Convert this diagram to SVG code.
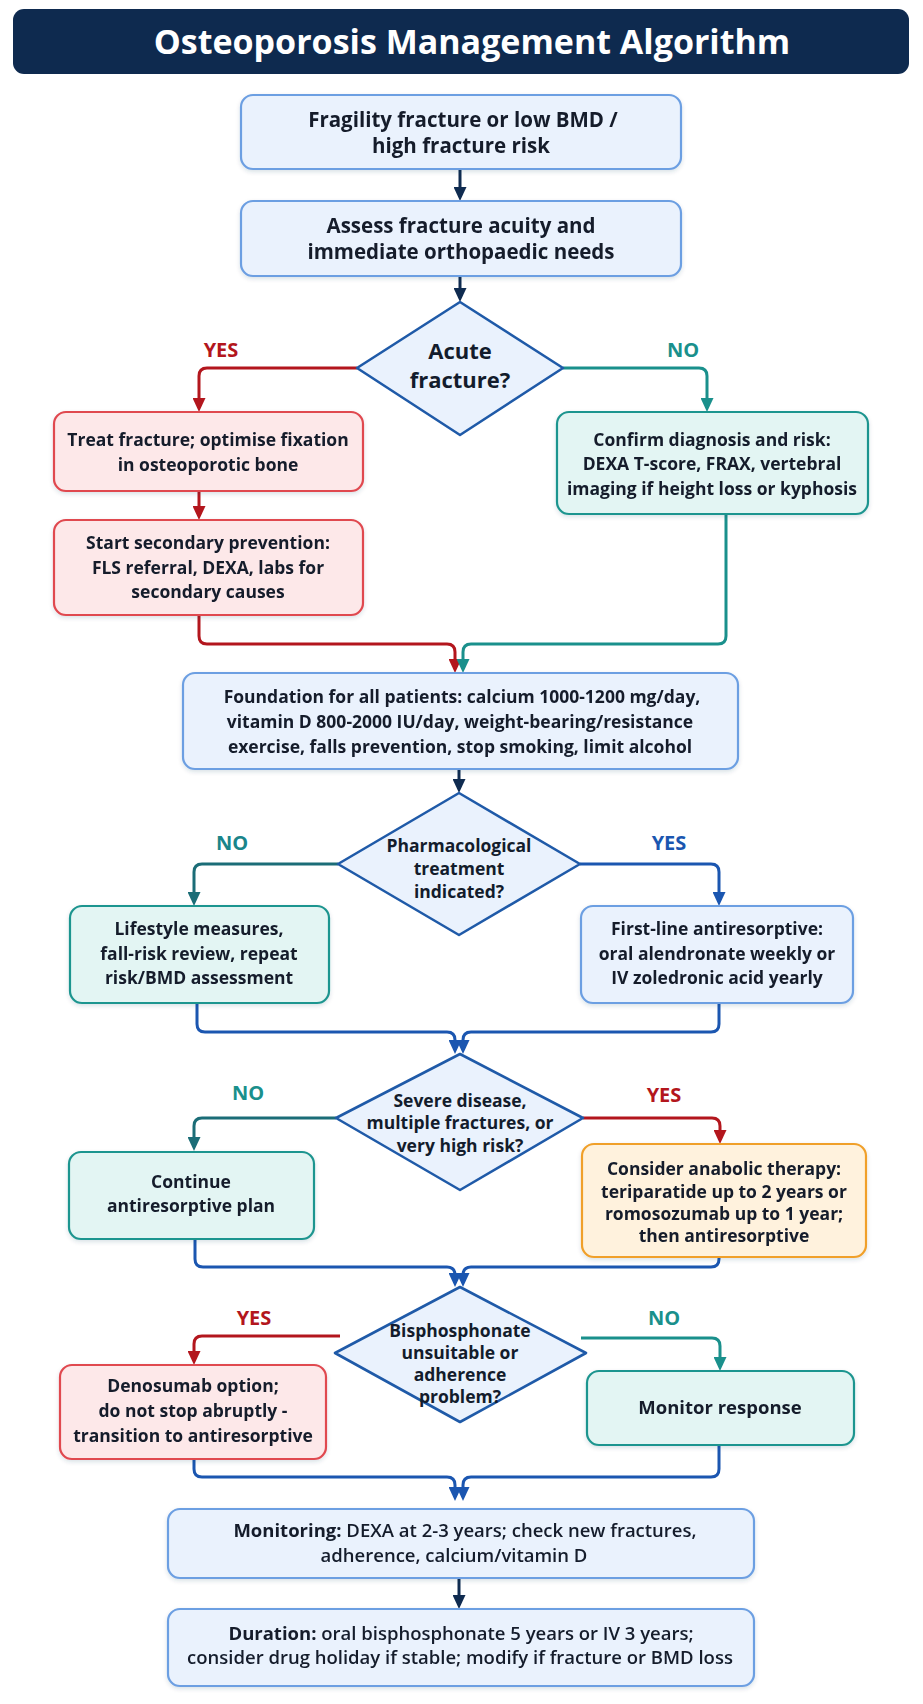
<svg xmlns="http://www.w3.org/2000/svg" width="923" height="1704" viewBox="0 0 923 1704">
<defs>
<style>
.t{font-family:"Open Sans","Liberation Sans",Arial,sans-serif;font-weight:700;fill:#131c2c;text-anchor:middle;font-size:17.5px}
.big{font-size:20.5px}
.dt{font-size:22px}
.mid{font-size:18.5px}
.title{font-family:"Open Sans","Liberation Sans",Arial,sans-serif;font-weight:700;fill:#ffffff;text-anchor:middle;font-size:34px}
.lbl{font-family:"Open Sans","Liberation Sans",Arial,sans-serif;font-weight:700;font-size:20px;text-anchor:middle}
.b{font-weight:700}
.m{font-weight:600}
.bx-blue{fill:#eaf2fd;stroke:#6c9fe2;stroke-width:2.2}
.bx-red{fill:#fde8e9;stroke:#e0484f;stroke-width:2.2}
.bx-teal{fill:#e3f5f3;stroke:#1f958f;stroke-width:2.2}
.bx-orange{fill:#fff2dd;stroke:#f0a02a;stroke-width:2.2}
.dia{fill:#eaf2fd;stroke:#1f5aa8;stroke-width:2.6}
.c{fill:none;stroke-width:3;stroke-linejoin:round}
.navy{stroke:#0f2b50}
.red{stroke:#b3161d}
.teal{stroke:#1a908c}
.tealdk{stroke:#1b6d77}
.blue{stroke:#1b56b0}
</style>
<filter id="sh" x="-10%" y="-10%" width="120%" height="130%">
<feDropShadow dx="0" dy="2" stdDeviation="2" flood-color="#1f3a60" flood-opacity="0.15"/>
</filter>
<marker id="a-navy" markerUnits="userSpaceOnUse" viewBox="0 0 14 13" markerWidth="14" markerHeight="13" refX="10" refY="6.5" orient="auto"><path d="M0,0 L14,6.5 L0,13 z" fill="#0f2b50"/></marker>
<marker id="a-red" markerUnits="userSpaceOnUse" viewBox="0 0 14 13" markerWidth="14" markerHeight="13" refX="10" refY="6.5" orient="auto"><path d="M0,0 L14,6.5 L0,13 z" fill="#b3161d"/></marker>
<marker id="a-teal" markerUnits="userSpaceOnUse" viewBox="0 0 14 13" markerWidth="14" markerHeight="13" refX="10" refY="6.5" orient="auto"><path d="M0,0 L14,6.5 L0,13 z" fill="#1a908c"/></marker>
<marker id="a-tealdk" markerUnits="userSpaceOnUse" viewBox="0 0 14 13" markerWidth="14" markerHeight="13" refX="10" refY="6.5" orient="auto"><path d="M0,0 L14,6.5 L0,13 z" fill="#1b6d77"/></marker>
<marker id="a-blue" markerUnits="userSpaceOnUse" viewBox="0 0 14 13" markerWidth="14" markerHeight="13" refX="10" refY="6.5" orient="auto"><path d="M0,0 L14,6.5 L0,13 z" fill="#1b56b0"/></marker>
</defs>
<rect width="923" height="1704" fill="#ffffff"/>

<g id="title">
<rect x="13" y="9" width="896" height="65" rx="11" fill="#0e2a4f"/>
<text class="title" x="472" y="54">Osteoporosis Management Algorithm</text>
</g>

<g id="connectors">
<path class="c navy" d="M460,169 V197" marker-end="url(#a-navy)"/>
<path class="c navy" d="M460,276 V298" marker-end="url(#a-navy)"/>
<path class="c red" d="M357,368 H207 Q199,368 199,376 V408" marker-end="url(#a-red)"/>
<path class="c teal" d="M563,368 H699 Q707,368 707,376 V408" marker-end="url(#a-teal)"/>
<path class="c red" d="M199,491 V516" marker-end="url(#a-red)"/>
<path class="c red" d="M199,615 V636 Q199,644 207,644 H447 Q455,644 455,652 V669" marker-end="url(#a-red)"/>
<path class="c teal" d="M726,514 V636 Q726,644 718,644 H471 Q463,644 463,652 V669" marker-end="url(#a-teal)"/>
<path class="c navy" d="M459,769 V789" marker-end="url(#a-navy)"/>
<path class="c tealdk" d="M338,864 H202 Q194,864 194,872 V902" marker-end="url(#a-tealdk)"/>
<path class="c blue" d="M580,864 H711 Q719,864 719,872 V902" marker-end="url(#a-blue)"/>
<path class="c blue" d="M197,1003 V1024 Q197,1032 205,1032 H447 Q455,1032 455,1040 V1050" marker-end="url(#a-blue)"/>
<path class="c blue" d="M719,1003 V1024 Q719,1032 711,1032 H471 Q463,1032 463,1040 V1050" marker-end="url(#a-blue)"/>
<path class="c tealdk" d="M336,1118 H202 Q194,1118 194,1126 V1147" marker-end="url(#a-tealdk)"/>
<path class="c red" d="M583,1118 H712 Q720,1118 720,1126 V1140" marker-end="url(#a-red)"/>
<path class="c blue" d="M195,1239 V1259 Q195,1267 203,1267 H447 Q455,1267 455,1275 V1283" marker-end="url(#a-blue)"/>
<path class="c blue" d="M719,1257 V1259 Q719,1267 711,1267 H471 Q463,1267 463,1275 V1283" marker-end="url(#a-blue)"/>
<path class="c red" d="M340,1336 H202 Q194,1336 194,1344 V1361" marker-end="url(#a-red)"/>
<path class="c teal" d="M581,1338 H712 Q720,1338 720,1346 V1367" marker-end="url(#a-teal)"/>
<path class="c blue" d="M194,1459 V1469 Q194,1477 202,1477 H447 Q455,1477 455,1485 V1497" marker-end="url(#a-blue)"/>
<path class="c blue" d="M719,1445 V1469 Q719,1477 711,1477 H471 Q463,1477 463,1485 V1497" marker-end="url(#a-blue)"/>
<path class="c navy" d="M459,1578 V1605" marker-end="url(#a-navy)"/>
<text class="lbl" x="221" y="357" fill="#b3161d">YES</text>
<text class="lbl" x="683" y="357" fill="#1a908c">NO</text>
<text class="lbl" x="232" y="850" fill="#1a858a">NO</text>
<text class="lbl" x="669" y="850" fill="#1b56b0">YES</text>
<text class="lbl" x="248" y="1100" fill="#1a908c">NO</text>
<text class="lbl" x="664" y="1102" fill="#b3161d">YES</text>
<text class="lbl" x="254" y="1325" fill="#b3161d">YES</text>
<text class="lbl" x="664" y="1325" fill="#1a908c">NO</text>
</g>

<g id="n-start" filter="url(#sh)">
<rect class="bx-blue" x="241" y="95" width="440" height="74" rx="12"/>
<text class="t big" x="463" y="127">Fragility fracture or low BMD /</text>
<text class="t big" x="461" y="153">high fracture risk</text>
</g>

<g id="n-assess" filter="url(#sh)">
<rect class="bx-blue" x="241" y="201" width="440" height="75" rx="12"/>
<text class="t big" x="461" y="233">Assess fracture acuity and</text>
<text class="t big" x="461" y="259">immediate orthopaedic needs</text>
</g>

<g id="d-acute">
<polygon class="dia" points="460,302 563,368 460,435 357,368" stroke-linejoin="round"/>
<text class="t dt" x="460" y="359">Acute</text>
<text class="t dt" x="460" y="388">fracture?</text>
</g>

<g id="n-treat" filter="url(#sh)">
<rect class="bx-red" x="54" y="412" width="309" height="79" rx="12"/>
<text class="t" x="208" y="446">Treat fracture; optimise fixation</text>
<text class="t" x="208" y="471">in osteoporotic bone</text>
</g>

<g id="n-secondary" filter="url(#sh)">
<rect class="bx-red" x="54" y="520" width="309" height="95" rx="12"/>
<text class="t" x="208" y="549">Start secondary prevention:</text>
<text class="t" x="208" y="574">FLS referral, DEXA, labs for</text>
<text class="t" x="208" y="598">secondary causes</text>
</g>

<g id="n-confirm" filter="url(#sh)">
<rect class="bx-teal" x="557" y="412" width="311" height="102" rx="12"/>
<text class="t" x="712" y="446">Confirm diagnosis and risk:</text>
<text class="t" x="712" y="470">DEXA T-score, FRAX, vertebral</text>
<text class="t" x="712" y="495">imaging if height loss or kyphosis</text>
</g>

<g id="n-foundation" filter="url(#sh)">
<rect class="bx-blue" x="183" y="673" width="555" height="96" rx="12"/>
<text class="t" x="462" y="703">Foundation for all patients: calcium 1000-1200 mg/day,</text>
<text class="t" x="460" y="728">vitamin D 800-2000 IU/day, weight-bearing/resistance</text>
<text class="t" x="460" y="753">exercise, falls prevention, stop smoking, limit alcohol</text>
</g>

<g id="d-pharm">
<polygon class="dia" points="459,793 580,864 459,935 338,864" stroke-linejoin="round"/>
<text class="t" x="459" y="852">Pharmacological</text>
<text class="t" x="459" y="875">treatment</text>
<text class="t" x="459" y="898">indicated?</text>
</g>

<g id="n-lifestyle" filter="url(#sh)">
<rect class="bx-teal" x="70" y="906" width="259" height="97" rx="12"/>
<text class="t" x="199" y="935">Lifestyle measures,</text>
<text class="t" x="199" y="960">fall-risk review, repeat</text>
<text class="t" x="199" y="984">risk/BMD assessment</text>
</g>

<g id="n-firstline" filter="url(#sh)">
<rect class="bx-blue" x="581" y="906" width="272" height="97" rx="12"/>
<text class="t" x="717" y="935">First-line antiresorptive:</text>
<text class="t" x="717" y="960">oral alendronate weekly or</text>
<text class="t" x="717" y="984">IV zoledronic acid yearly</text>
</g>

<g id="d-severe">
<polygon class="dia" points="460,1054 583,1118 460,1190 336,1118" stroke-linejoin="round"/>
<text class="t" x="460" y="1107">Severe disease,</text>
<text class="t" x="460" y="1129">multiple fractures, or</text>
<text class="t" x="460" y="1152">very high risk?</text>
</g>

<g id="n-continue" filter="url(#sh)">
<rect class="bx-teal" x="69" y="1152" width="245" height="87" rx="12"/>
<text class="t" x="191" y="1188">Continue</text>
<text class="t" x="191" y="1212">antiresorptive plan</text>
</g>

<g id="n-anabolic" filter="url(#sh)">
<rect class="bx-orange" x="582" y="1144" width="284" height="113" rx="12"/>
<text class="t" x="724" y="1175">Consider anabolic therapy:</text>
<text class="t" x="724" y="1198">teriparatide up to 2 years or</text>
<text class="t" x="724" y="1220">romosozumab up to 1 year;</text>
<text class="t" x="724" y="1242">then antiresorptive</text>
</g>

<g id="d-bisph">
<polygon class="dia" points="460,1287 586,1353 460,1422 335,1353" stroke-linejoin="round"/>
<text class="t" x="460" y="1337">Bisphosphonate</text>
<text class="t" x="460" y="1359">unsuitable or</text>
<text class="t" x="460" y="1381">adherence</text>
<text class="t" x="460" y="1403">problem?</text>
</g>

<g id="n-denosumab" filter="url(#sh)">
<rect class="bx-red" x="60" y="1365" width="266" height="94" rx="12"/>
<text class="t" x="193" y="1392">Denosumab option;</text>
<text class="t" x="193" y="1417">do not stop abruptly -</text>
<text class="t" x="193" y="1442">transition to antiresorptive</text>
</g>

<g id="n-monitor" filter="url(#sh)">
<rect class="bx-teal" x="587" y="1371" width="267" height="74" rx="12"/>
<text class="t mid" x="720" y="1414">Monitor response</text>
</g>

<g id="n-monitoring" filter="url(#sh)">
<rect class="bx-blue" x="168" y="1509" width="586" height="69" rx="12"/>
<text class="t mid" x="465" y="1537"><tspan class="b">Monitoring:</tspan><tspan class="m">  DEXA at 2-3 years; check new fractures,</tspan></text>
<text class="t mid m" x="454" y="1562">adherence, calcium/vitamin D</text>
</g>

<g id="n-duration" filter="url(#sh)">
<rect class="bx-blue" x="168" y="1609" width="586" height="77" rx="12"/>
<text class="t mid" x="461" y="1640"><tspan class="b">Duration:</tspan><tspan class="m"> oral bisphosphonate 5 years or IV 3 years;</tspan></text>
<text class="t mid m" x="460" y="1664">consider drug holiday if stable; modify if fracture or BMD loss</text>
</g>
</svg>
